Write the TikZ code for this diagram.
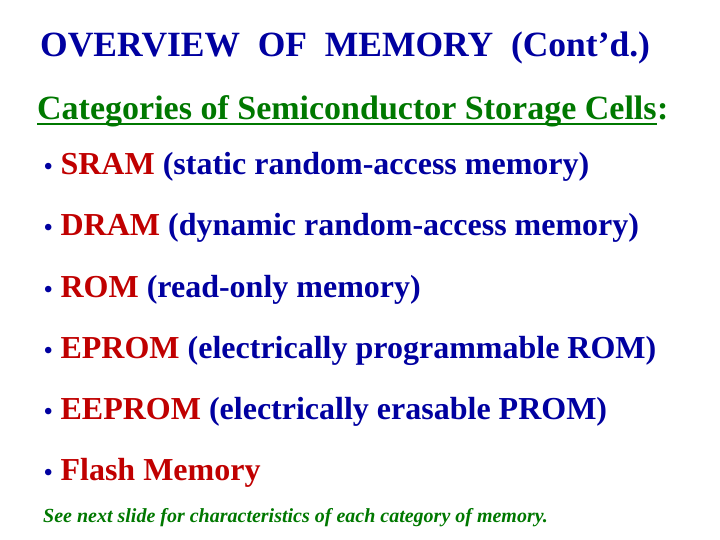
\documentclass[tikz,border=0pt]{standalone}
\usepackage{fontspec}
\setmainfont{Liberation Serif}
\definecolor{tblue}{RGB}{0,0,160}
\definecolor{tred}{RGB}{192,0,0}
\definecolor{tgreen}{RGB}{0,120,0}
\tikzset{txt/.style={anchor=base west,inner sep=0pt,font=\bfseries\fontsize{32}{36}\selectfont},
 item/.style={txt,text=tblue}}
\begin{document}
\begin{tikzpicture}[x=1pt,y=-1pt]
\useasboundingbox (0,0) rectangle (720,540);
\node[txt,text=tblue,font=\bfseries\fontsize{35.5}{40}\selectfont] (title) at (40,57) {OVERVIEW\ \ OF\ \ MEMORY\ \ (Cont’d.)};
\node[txt,text=tgreen,font=\bfseries\fontsize{34}{38}\selectfont] (sub) at (37,120) {Categories of Semiconductor Storage Cells};
\node[txt,text=tgreen,font=\bfseries\fontsize{34}{38}\selectfont] (colon) at (sub.base east) {:};
\draw[tgreen,line width=2pt] ([yshift=-4pt]sub.base west) -- ([yshift=-4pt]sub.base east);
\node[item] (i1) at (44,175) {{\fontsize{24}{28}\selectfont•} \textcolor{tred}{SRAM} (static random-access memory)};
\node[item] (i2) at (44,236) {{\fontsize{24}{28}\selectfont•} \textcolor{tred}{DRAM} (dynamic random-access memory)};
\node[item] (i3) at (44,297) {{\fontsize{24}{28}\selectfont•} \textcolor{tred}{ROM} (read-only memory)};
\node[item] (i4) at (44,358) {{\fontsize{24}{28}\selectfont•} \textcolor{tred}{EPROM} (electrically programmable ROM)};
\node[item] (i5) at (44,419) {{\fontsize{24}{28}\selectfont•} \textcolor{tred}{EEPROM} (electrically erasable PROM)};
\node[item] (i6) at (44,480) {{\fontsize{24}{28}\selectfont•} \textcolor{tred}{Flash Memory}};
\node[txt,text=tgreen,font=\bfseries\itshape\fontsize{20}{24}\selectfont] (note) at (43,522) {See next slide for characteristics of each category of memory.};
\end{tikzpicture}
\end{document}
